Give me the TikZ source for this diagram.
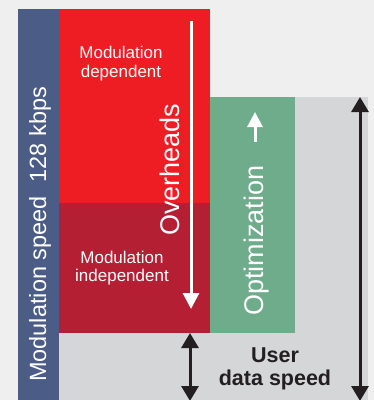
\documentclass[tikz,border=0pt]{standalone}
\usepackage{fontspec}
\setmainfont{Liberation Sans}
\usetikzlibrary{arrows.meta}
\definecolor{pagebg}{HTML}{EFEFEF}
\definecolor{barblue}{HTML}{4B5D87}
\definecolor{ovred}{HTML}{EE1D24}
\definecolor{ovdark}{HTML}{B41F34}
\definecolor{optgreen}{HTML}{6FAC8B}
\definecolor{usergrey}{HTML}{D5D6D8}
\definecolor{ink}{HTML}{231F20}
\tikzset{
  block/.style={fill=#1, draw=none},
  small/.style={text=white, align=center, font=\fontsize{17}{18.3}\selectfont, inner sep=0pt},
  vert/.style={text=white, rotate=90, anchor=base west, inner sep=0pt},
  whitearrow/.style={draw=white, line width=3pt, -{Triangle[width=16pt,length=16pt]}},
  blackarrow/.style={draw=ink, line width=3pt, {Triangle[width=17pt,length=15pt]}-{Triangle[width=17pt,length=15pt]}},
}
\begin{document}
\begin{tikzpicture}[x=1pt, y=-1pt]
  \useasboundingbox (0,0) rectangle (374,400);
  \fill[pagebg] (0,0) rectangle (374,400);

  % coloured areas
  \fill[usergrey] (59,97) rectangle (368,400);
  \fill[barblue] (18,9) rectangle (59,400);
  \fill[ovred] (59,9) rectangle (210,203);
  \fill[ovdark] (59,203) rectangle (210,333);
  \fill[optgreen] (210,97) rectangle (295,333);

  % labels in the overhead blocks (anchored on the baseline of the last line)
  \node[small, anchor=base] (dep) at (121,77) {Modulation\\dependent};
  \node[small, anchor=base] (indep) at (122,281.5) {Modulation\\independent};

  % rotated labels
  \node[vert, font=\fontsize{23.5}{24}\selectfont] (speed) at (46,382)
    {Modulation speed\hspace{14pt}128 kbps};
  \node[vert, font=\fontsize{27}{28}\selectfont] (over) at (179,236) {Overheads};
  \node[vert, font=\fontsize{27}{28}\selectfont] (opt) at (263,316) {Optimization};

  % user data speed label
  \node[text=ink, align=center, font=\bfseries\fontsize{21.5}{23}\selectfont,
        anchor=base, inner sep=0pt] (user) at (275,385) {User\\data speed};

  % arrows
  \coordinate (ovtop) at (191,21);
  \coordinate (ovbot) at (191,309);
  \draw[whitearrow] (ovtop) -- (ovbot);

  \coordinate (optbot) at (255,142);
  \coordinate (opttop) at (255,112);
  \draw[draw=white, line width=3pt, -{Triangle[width=15pt,length=15pt]}] (optbot) -- (opttop);

  \coordinate (udtop) at (190,333);
  \coordinate (udbot) at (190,401);
  \draw[blackarrow] (udtop) -- (udbot);

  \coordinate (mstop) at (360,97);
  \coordinate (msbot) at (360,401);
  \draw[blackarrow] (mstop) -- (msbot);
\end{tikzpicture}
\end{document}
